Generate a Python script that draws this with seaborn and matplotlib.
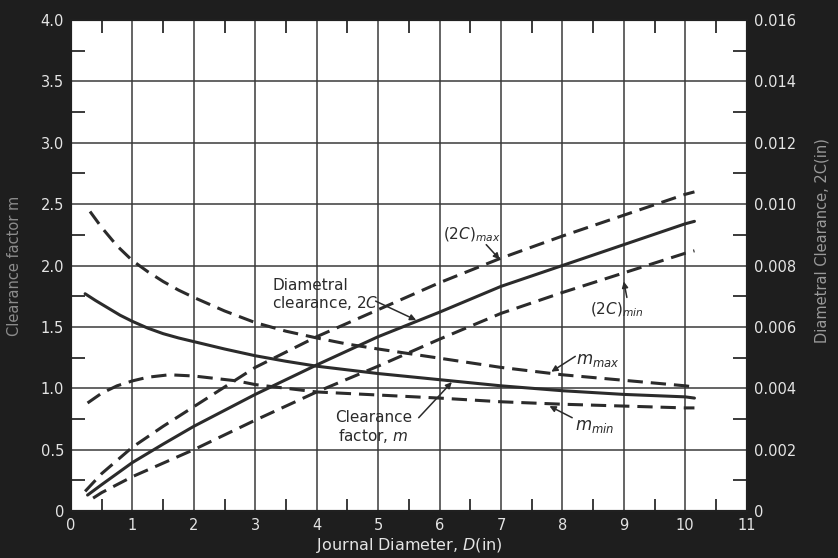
import numpy as np
import pandas as pd
import matplotlib
matplotlib.use("Agg")
import matplotlib.pyplot as plt
import seaborn as sns
from matplotlib.ticker import MultipleLocator, FuncFormatter, FixedLocator

# ---- data ----
# Clearance factor m (left axis)
m_x = [0.23, 0.4, 0.6, 0.8, 1.0, 1.25, 1.5, 1.75, 2, 2.5, 3, 3.5, 4, 5, 6, 7, 8, 9, 10, 10.15]
m_nom = [1.77, 1.715, 1.655, 1.595, 1.545, 1.49, 1.445, 1.41, 1.38, 1.32, 1.265, 1.22, 1.18, 1.12, 1.07, 1.02, 0.98, 0.95, 0.93, 0.92]
mmax_x = [0.31, 0.5, 0.75, 1, 1.25, 1.5, 1.75, 2, 2.5, 3, 3.5, 4, 4.5, 5, 6, 7, 8, 9, 10, 10.15]
m_max = [2.44, 2.31, 2.16, 2.04, 1.95, 1.87, 1.80, 1.74, 1.63, 1.535, 1.465, 1.41, 1.36, 1.32, 1.245, 1.17, 1.11, 1.065, 1.02, 1.01]
mmin_x = [0.27, 0.5, 0.75, 1, 1.25, 1.6, 2, 2.35, 2.7, 3, 3.5, 4, 5, 6, 7, 8, 9, 10, 10.15]
m_min = [0.88, 0.96, 1.02, 1.06, 1.09, 1.11, 1.10, 1.08, 1.06, 1.03, 1.00, 0.97, 0.945, 0.92, 0.89, 0.87, 0.855, 0.84, 0.84]

# Diametral clearance 2C in inches (right axis)
c_x = [0.27, 0.5, 1, 1.5, 2, 3, 4, 5, 6, 7, 8, 9, 10, 10.15]
c_nom = [0.00052, 0.00086, 0.00158, 0.00218, 0.00276, 0.0038, 0.00476, 0.00568, 0.00648, 0.00732, 0.0080, 0.00868, 0.00936, 0.00944]
cmax_x = [0.23, 0.5, 1, 1.5, 2, 3, 4, 5, 6, 7, 8, 9, 10, 10.15]
c_max = [0.00064, 0.00122, 0.00208, 0.00276, 0.0034, 0.00468, 0.00568, 0.00656, 0.00744, 0.00824, 0.00896, 0.00964, 0.01032, 0.0104]
cmin_x = [0.36, 0.5, 1, 1.5, 2, 3, 4, 5, 6, 7, 8, 9, 10, 10.15]
c_min = [0.00042, 0.0006, 0.00112, 0.00156, 0.0020, 0.00296, 0.00388, 0.00472, 0.0056, 0.00644, 0.00712, 0.00776, 0.0084, 0.00848]

x_ticks = list(range(0, 12))
left_ticks = [0, 0.5, 1.0, 1.5, 2.0, 2.5, 3.0, 3.5, 4.0]
right_ticks = [0, 0.002, 0.004, 0.006, 0.008, 0.010, 0.012, 0.014, 0.016]

# ---- style ----
sns.set_theme(style="white")
plt.rcParams["font.family"] = ["DejaVu Sans"]
plt.rcParams["mathtext.fontset"] = "dejavusans"

BG = "#1e1e1e"
INK = "#2b2b2b"
TXT = "#e4e4e4"

fig = plt.figure(figsize=(8.38, 5.58), dpi=100, facecolor=BG)
ax = fig.add_axes([0.0847, 0.0842, 0.8063, 0.8799])
ax.set_facecolor("white")
ax2 = ax.twinx()

lw = 2.2
dash = (5, 2.6)

sns.lineplot(x=m_x, y=m_nom, ax=ax, color=INK, lw=lw, sort=False)
sns.lineplot(x=mmax_x, y=m_max, ax=ax, color=INK, lw=lw, sort=False).lines[-1].set_dashes(dash)
sns.lineplot(x=mmin_x, y=m_min, ax=ax, color=INK, lw=lw, sort=False).lines[-1].set_dashes(dash)

sns.lineplot(x=c_x, y=c_nom, ax=ax2, color=INK, lw=lw, sort=False)
sns.lineplot(x=cmax_x, y=c_max, ax=ax2, color=INK, lw=lw, sort=False).lines[-1].set_dashes(dash)
sns.lineplot(x=cmin_x, y=c_min, ax=ax2, color=INK, lw=lw, sort=False).lines[-1].set_dashes(dash)

for a in (ax, ax2):
    for ln in a.lines:
        ln.set_solid_joinstyle("round")
        ln.set_dash_joinstyle("round")

# ---- axes ----
ax.set_xlim(0, 11)
ax.set_ylim(0, 4.0)
ax2.set_ylim(0, 0.016)
ax.xaxis.set_major_locator(FixedLocator(x_ticks))
ax.yaxis.set_major_locator(FixedLocator(left_ticks))
ax2.yaxis.set_major_locator(FixedLocator(right_ticks))
ax.xaxis.set_minor_locator(MultipleLocator(0.5))
ax.yaxis.set_minor_locator(MultipleLocator(0.25))
ax2.yaxis.set_minor_locator(MultipleLocator(0.001))

ax.yaxis.set_major_formatter(FuncFormatter(lambda v, p: "0" if v == 0 else f"{v:.1f}"))
ax2.yaxis.set_major_formatter(FuncFormatter(lambda v, p: "0" if v == 0 else f"{v:.3f}"))
ax.xaxis.set_major_formatter(FuncFormatter(lambda v, p: f"{int(v)}"))

ax.grid(True, which="major", color="#3a3a3a", lw=1.1)
ax.set_axisbelow(True)

ax.tick_params(which="major", length=0, labelsize=10.5, labelcolor=TXT, pad=5)
ax.tick_params(axis="x", which="minor", direction="in", length=9, width=1.3,
               color=INK, top=True, bottom=True)
ax.tick_params(axis="y", which="minor", direction="in", length=10, width=1.3,
               color=INK, left=True, right=False)
ax2.tick_params(which="major", length=0, labelsize=10.5, labelcolor=TXT, pad=5)
ax2.tick_params(axis="y", which="minor", direction="in", length=10, width=1.3,
                color=INK, right=True)
ax2.grid(False)

for a in (ax, ax2):
    for s in a.spines.values():
        s.set_color("#202020")
        s.set_linewidth(1.5)

ax.set_xlabel("Journal Diameter, $\\mathit{D}$(in)", color=TXT, fontsize=11.5, labelpad=2)
ax.set_ylabel("Clearance factor m", color="#8c8c8c", fontsize=10.5)
ax.yaxis.set_label_coords(-0.072, 0.5)
ax2.set_ylabel("Diametral Clearance, 2C(in)", color="#9a9a9a", fontsize=10.5)
ax2.yaxis.set_label_coords(1.101, 0.55)

# ---- annotations ----
fs = 11
ax.text(3.28, 1.90, "Diametral\nclearance, 2$\\mathit{C}$", fontsize=fs, color=INK,
        ha="left", va="top", linespacing=1.1)
arrow = dict(arrowstyle="-|>", color=INK, lw=1.1, mutation_scale=9, shrinkA=0, shrinkB=0)
ax.annotate("", xy=(5.62, 1.555), xytext=(4.96, 1.71), arrowprops=arrow)

ax.text(6.05, 2.25, "(2$\\mathit{C}$)$_{\\mathit{max}}$", fontsize=fs, color=INK, ha="left", va="center")
ax.annotate("", xy=(6.98, 2.05), xytext=(6.76, 2.17), arrowprops=arrow)

ax.text(8.45, 1.64, "(2$\\mathit{C}$)$_{\\mathit{min}}$", fontsize=fs, color=INK, ha="left", va="center")
ax.annotate("", xy=(9.0, 1.87), xytext=(9.05, 1.74), arrowprops=arrow)

ax.text(8.22, 1.23, "$\\mathit{m}_{\\mathit{max}}$", fontsize=fs + 1, color=INK, ha="left", va="center")
ax.annotate("", xy=(7.82, 1.135), xytext=(8.21, 1.26), arrowprops=arrow)

ax.text(8.2, 0.69, "$\\mathit{m}_{\\mathit{min}}$", fontsize=fs + 1, color=INK, ha="left", va="center")
ax.annotate("", xy=(7.79, 0.855), xytext=(8.16, 0.76), arrowprops=arrow)

ax.text(4.92, 0.82, "Clearance\nfactor, $\\mathit{m}$", fontsize=fs, color=INK,
        ha="center", va="top", multialignment="center", linespacing=1.1)
ax.annotate("", xy=(6.2, 1.05), xytext=(5.66, 0.76), arrowprops=arrow)

fig.savefig("out.png", dpi=100, facecolor=BG)
